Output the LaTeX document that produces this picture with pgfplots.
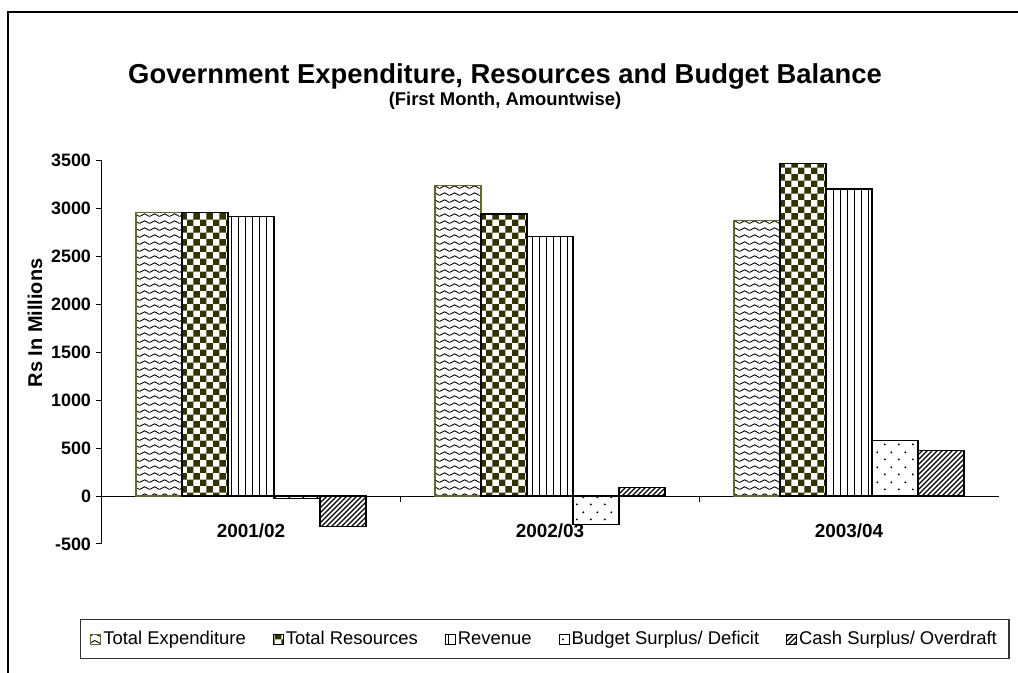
\documentclass[border=0pt]{standalone}
\usepackage{fontspec}
\setmainfont{Liberation Sans}
\usepackage{pgfplots}
\pgfplotsset{compat=1.18}
\usetikzlibrary{patterns}
\definecolor{olv}{HTML}{333300}
\definecolor{teo}{HTML}{666633}
\pgfdeclarepatternformonly{zig}{\pgfqpoint{0bp}{0bp}}{\pgfqpoint{10bp}{7bp}}{\pgfqpoint{10bp}{7bp}}{%
  \pgfsetlinewidth{1bp}%
  \pgfpathmoveto{\pgfqpoint{-0.5bp}{1.75bp}}%
  \pgfpathlineto{\pgfqpoint{5bp}{4.75bp}}%
  \pgfpathlineto{\pgfqpoint{10.5bp}{1.75bp}}%
  \pgfusepath{stroke}}
\pgfdeclarepatternformonly{checker}{\pgfqpoint{0bp}{0bp}}{\pgfqpoint{13.4bp}{13.4bp}}{\pgfqpoint{13.4bp}{13.4bp}}{%
  \pgfpathrectangle{\pgfqpoint{0bp}{0bp}}{\pgfqpoint{6.7bp}{6.7bp}}%
  \pgfpathrectangle{\pgfqpoint{6.7bp}{6.7bp}}{\pgfqpoint{6.7bp}{6.7bp}}%
  \pgfusepath{fill}}
\pgfdeclarepatternformonly{vlines}{\pgfqpoint{-1bp}{-1bp}}{\pgfqpoint{1bp}{8bp}}{\pgfqpoint{7bp}{7bp}}{%
  \pgfsetlinewidth{1bp}%
  \pgfpathmoveto{\pgfqpoint{0bp}{-0.5bp}}%
  \pgfpathlineto{\pgfqpoint{0bp}{7.5bp}}%
  \pgfusepath{stroke}}
\pgfdeclarepatternformonly{sdots}{\pgfqpoint{0bp}{0bp}}{\pgfqpoint{14bp}{15bp}}{\pgfqpoint{14bp}{15bp}}{%
  \pgfpathcircle{\pgfqpoint{3bp}{3.75bp}}{1.1bp}%
  \pgfpathcircle{\pgfqpoint{10bp}{11.25bp}}{1.1bp}%
  \pgfusepath{fill}}
\pgfdeclarepatternformonly{nelines}{\pgfqpoint{-1bp}{-1bp}}{\pgfqpoint{6bp}{6bp}}{\pgfqpoint{5bp}{5bp}}{%
  \pgfsetlinewidth{1.4bp}%
  \pgfpathmoveto{\pgfqpoint{0bp}{0bp}}%
  \pgfpathlineto{\pgfqpoint{5.1bp}{5.1bp}}%
  \pgfusepath{stroke}}
\begin{document}
\begin{tikzpicture}
\path[use as bounding box] (0,0) rectangle (1018bp,673bp);
\draw[line width=1.5bp] (8bp,0) -- (8bp,661bp) -- (1018bp,661bp);
\node[font=\bfseries\fontsize{27.5}{30}\selectfont] at (505bp,597bp) {Government Expenditure, Resources and Budget Balance};
\node[font=\bfseries\fontsize{18.5}{21}\selectfont] at (505bp,572bp) {(First Month, Amountwise)};
\begin{axis}[
  at={(101.5bp,129bp)}, anchor=south west,
  width=897bp, height=383.3bp, scale only axis,
  ybar=0pt, bar width=46bp,
  xmin=-0.5, xmax=2.5, ymin=-500, ymax=3500,
  axis y line=left, axis x line=middle,
  axis line style={-, line width=1bp},
  tick align=outside,
  xtick={0,1,2}, xticklabels={2001/02,2002/03,2003/04},
  major x tick style={draw=none},
  minor xtick={0.5,1.5},
  minor tick length=6bp, major tick length=5bp,
  tick style={line width=1bp, black},
  ytick={-500,0,500,1000,1500,2000,2500,3000,3500},
  yticklabel style={xshift=-2bp, font=\bfseries\fontsize{18}{20}\selectfont},
  xticklabel style={yshift=-19bp, font=\bfseries\fontsize{19}{21}\selectfont},
  /pgf/number format/assume math mode=true,
  /pgf/number format/1000 sep={},
  ylabel={Rs In Millions},
  y label style={at={(axis description cs:-0.074,0.577)}, anchor=center, font=\bfseries\fontsize{20}{22}\selectfont},
  legend columns=5,
  legend style={at={(axis description cs:0.494,-0.248)}, anchor=center, draw=black!80, line width=1.5bp,
    font=\fontsize{18.5}{21}\selectfont, inner ysep=10bp, inner xsep=10bp,
    /tikz/every even column/.append style={column sep=25bp}},
  legend image code/.code={\draw[#1,line width=1bp] (0bp,-5bp) rectangle (10bp,5bp);},
]
\addplot[draw=teo, line width=1.3bp, pattern=zig, pattern color=black] coordinates {(0,2960) (1,3240) (2,2875)};
\addplot[draw=black, line width=1.3bp, pattern=checker, pattern color=olv] coordinates {(0,2960) (1,2945) (2,3470)};
\addplot[draw=black, line width=1.3bp, pattern=vlines, pattern color=black] coordinates {(0,2920) (1,2710) (2,3205)};
\addplot[draw=black, line width=1.3bp, pattern=sdots, pattern color=black] coordinates {(0,-25) (1,-300) (2,583)};
\addplot[draw=black, line width=1.3bp, pattern=nelines, pattern color=black] coordinates {(0,-320) (1,87) (2,479)};
\legend{Total Expenditure, Total Resources, Revenue, Budget Surplus/ Deficit, Cash Surplus/ Overdraft}
\end{axis}
\end{tikzpicture}
\end{document}
